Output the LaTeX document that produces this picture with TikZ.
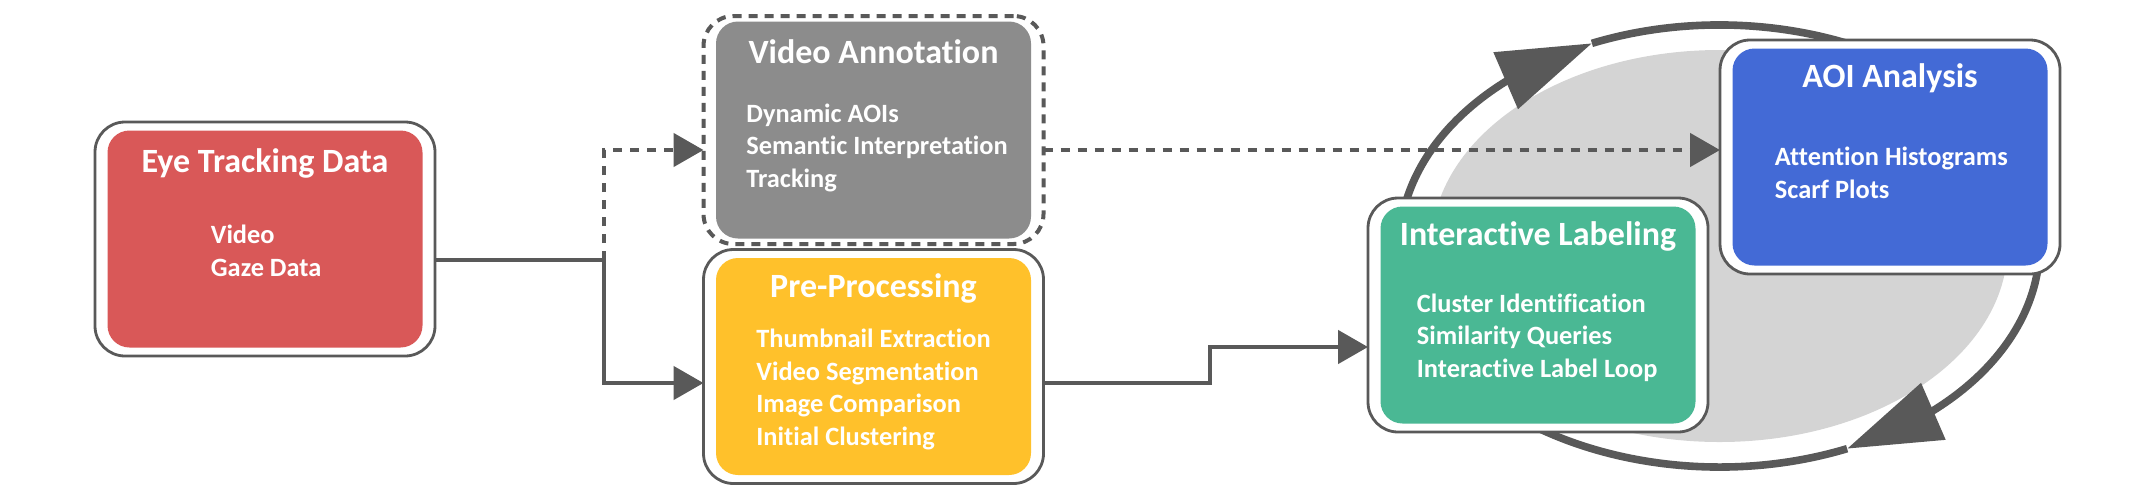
\documentclass[tikz,border=0pt]{standalone}
\usepackage{fontspec}
\setmainfont{Carlito}[Ligatures=NoCommon]
\usetikzlibrary{arrows.meta,bending,calc}

\definecolor{linegray}{HTML}{595959}
\definecolor{eyered}{HTML}{D95858}
\definecolor{annogray}{HTML}{8C8C8C}
\definecolor{preyellow}{HTML}{FFC12B}
\definecolor{labelgreen}{HTML}{4AB894}
\definecolor{aoiblue}{HTML}{436AD6}
\definecolor{cyclegray}{HTML}{D4D4D4}

\begin{document}
\begin{tikzpicture}[x=0.5pt, y=-0.5pt]
  \useasboundingbox (0,0) rectangle (2151,494);

  % Stile.
  \tikzstyle{outerbox}=[draw=linegray, line width=1.4pt, fill=white, rounded corners=15pt,
    minimum width=170pt, minimum height=117pt, inner sep=0pt, outer sep=0pt]
  \tikzstyle{innerbox}=[rounded corners=11pt, minimum width=157.5pt, minimum height=108.5pt,
    inner sep=0pt, outer sep=0pt]
  \tikzstyle{boxtitle}=[text=white, font=\bfseries\fontsize{17}{20}\selectfont, anchor=base, inner sep=0pt]
  \tikzstyle{items}=[text=white, font=\bfseries\fontsize{13.2}{16.25}\selectfont, anchor=base west,
    align=left, inner sep=0pt]
  \tikzstyle{conn}=[draw=linegray, line width=2.4pt, -{Triangle[length=15pt, width=16.5pt]}]
  \tikzstyle{dashconn}=[conn, dash pattern=on 4.5pt off 4pt]
  \tikzstyle{ring}=[draw=linegray, line width=3.8pt]

  % Zyklus.
  \coordinate (cyc) at (1719.5,246);
  \fill[cyclegray] (cyc) ellipse [x radius=288, y radius=196];
  \draw[ring, -{Triangle[flex, length=47pt, width=30pt]}]
    ($(cyc)+(66.5:320 and 221)$) arc [start angle=66.5, end angle=246.5, x radius=320, y radius=221];
  \draw[ring, -{Triangle[flex, length=47pt, width=30pt]}]
    ($(cyc)+(246.5:320 and 221)$) arc [start angle=246.5, end angle=426.5, x radius=320, y radius=221];

  % Eye Tracking Data (Text: Grundlinie der letzten Zeile).
  \node[outerbox] (eyebox) at (265,239) {};
  \node[innerbox, fill=eyered] (eyein) at (eyebox.center) {};
  \node[boxtitle] at ($(eyein.north)+(0,41.5)$) {Eye Tracking Data};
  \node[items] at ($(eyein.north west)+(103,145.5)$) {Video\\Gaze Data};

  % Video Annotation.
  \node[outerbox, dash pattern=on 4.5pt off 3.5pt, line width=2pt, minimum height=114pt] (vabox) at (873.5,130) {};
  \node[innerbox, fill=annogray] (vain) at (vabox.center) {};
  \node[boxtitle] at ($(vain.north)+(0,41.5)$) {Video Annotation};
  \node[items] at ($(vain.north west)+(30,165.5)$) {Dynamic AOIs\\Semantic Interpretation\\Tracking};

  % Pre-Processing.
  \node[outerbox] (prebox) at (873.5,366.5) {};
  \node[innerbox, fill=preyellow] (prein) at (prebox.center) {};
  \node[boxtitle] at ($(prein.north)+(0,39)$) {Pre-Processing};
  \node[items] at ($(prein.north west)+(40,187)$)
    {Thumbnail Extraction\\Video Segmentation\\Image Comparison\\Initial Clustering};

  % Interactive Labeling.
  \node[outerbox] (ilbox) at (1538,315) {};
  \node[innerbox, fill=labelgreen] (ilin) at (ilbox.center) {};
  \node[boxtitle] at ($(ilin.north)+(0,38.5)$) {Interactive Labeling};
  \node[items] at ($(ilin.north west)+(36,170.5)$)
    {Cluster Identification\\Similarity Queries\\Interactive Label Loop};

  % AOI Analysis.
  \node[outerbox] (aoibox) at (1890,157) {};
  \node[innerbox, fill=aoiblue] (aoiin) at (aoibox.center) {};
  \node[boxtitle] at ($(aoiin.north)+(0,38.5)$) {AOI Analysis};
  \node[items] at ($(aoiin.north west)+(42,149.5)$) {Attention Histograms\\Scarf Plots};

  % Verbindungen.
  \coordinate (fork) at (604,260);
  \coordinate (bend) at (1210,365);
  \coordinate (vaout) at ($(vabox.east)+(0,20)$);
  \draw[dashconn] (fork) |- ($(vabox.west)+(0,20)$);
  \draw[conn] ($(eyebox.east)+(0,21)$) -- (fork) |- ($(prebox.west)+(0,16.5)$);
  \draw[conn] ($(prebox.east)+(0,16.5)$) -| (bend) |- ($(ilbox.west)+(0,32)$);
  \draw[dashconn] (vaout) -- (aoibox.west |- vaout);
\end{tikzpicture}
\end{document}
